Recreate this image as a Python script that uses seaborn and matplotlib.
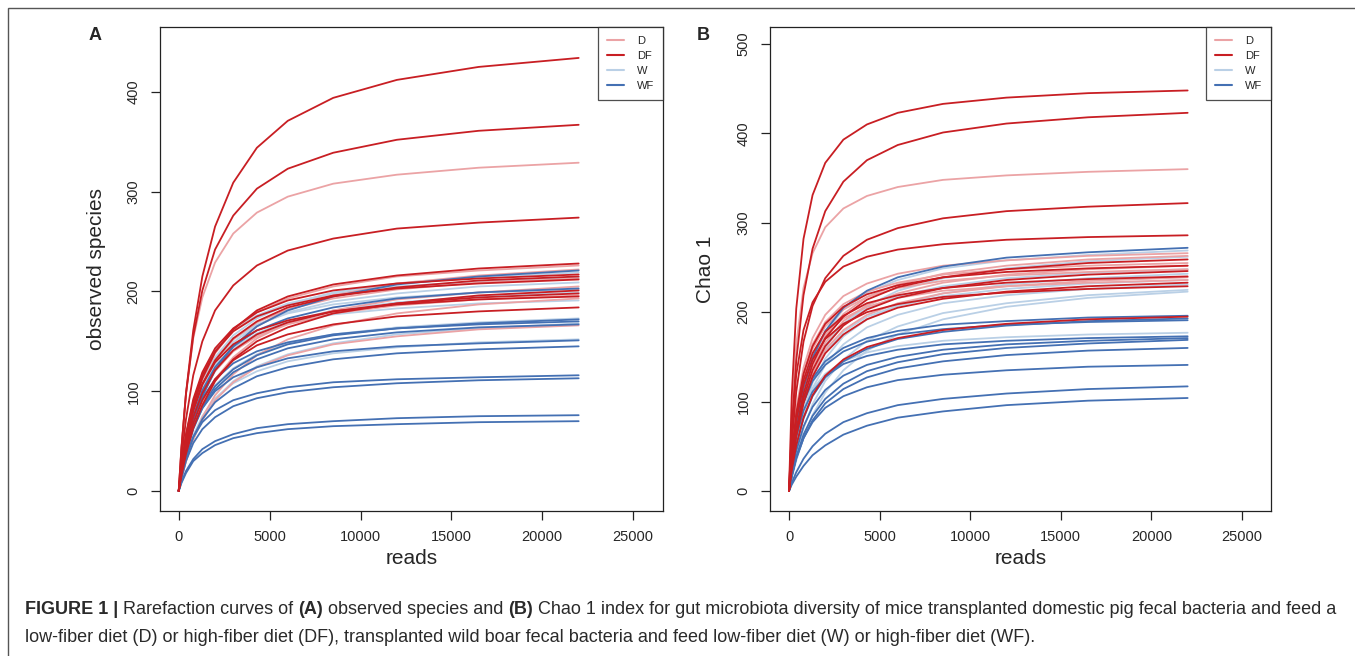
import pandas as pd
import numpy as np
import matplotlib
matplotlib.use("Agg")
import matplotlib.pyplot as plt
from matplotlib.lines import Line2D
from matplotlib.patches import Rectangle
import seaborn as sns

reads = [0, 150, 400, 800, 1300, 2000, 3000, 4300, 6000, 8500, 12000, 16500, 22000]

# panel A - observed species (one list per mouse, values at `reads`)
obs_D = [
    [0, 45, 98, 153, 194, 229, 258, 279, 295, 308, 317, 324, 329],
    [0, 22, 51, 84, 112, 138, 161, 179, 193, 205, 215, 221, 226],
    [0, 17, 40, 69, 95, 121, 145, 165, 182, 196, 208, 216, 222],
    [0, 21, 48, 79, 106, 130, 152, 169, 182, 193, 202, 209, 213],
    [0, 16, 37, 64, 88, 112, 134, 153, 168, 181, 192, 199, 205],
    [0, 19, 44, 73, 97, 120, 140, 155, 167, 178, 186, 192, 196],
    [0, 12, 30, 52, 74, 96, 117, 136, 152, 166, 178, 187, 193],
    [0, 13, 30, 52, 71, 91, 109, 124, 136, 147, 155, 162, 166],
]
obs_DF = [
    [0, 42, 98, 161, 215, 265, 309, 344, 371, 394, 412, 425, 434],
    [0, 43, 97, 155, 201, 242, 276, 303, 323, 339, 352, 361, 367],
    [0, 32, 72, 116, 150, 181, 206, 226, 241, 253, 263, 269, 274],
    [0, 22, 51, 85, 113, 139, 162, 181, 195, 207, 216, 223, 228],
    [0, 25, 57, 92, 119, 143, 163, 179, 191, 201, 208, 213, 217],
    [0, 21, 48, 80, 107, 131, 153, 170, 184, 195, 204, 211, 215],
    [0, 25, 56, 89, 116, 140, 160, 175, 186, 196, 203, 208, 212],
    [0, 15, 37, 63, 86, 110, 132, 150, 164, 178, 188, 196, 201],
    [0, 19, 45, 74, 98, 121, 141, 157, 169, 180, 188, 194, 198],
    [0, 23, 51, 82, 107, 129, 147, 161, 171, 180, 187, 192, 195],
    [0, 18, 41, 68, 91, 112, 131, 146, 157, 167, 175, 180, 184],
]
obs_W = [
    [0, 21, 49, 81, 109, 134, 156, 173, 187, 199, 208, 214, 219],
    [0, 25, 56, 90, 117, 141, 161, 176, 188, 198, 205, 210, 214],
    [0, 20, 47, 78, 104, 128, 149, 166, 179, 190, 198, 205, 209],
    [0, 24, 53, 85, 111, 133, 152, 167, 178, 187, 194, 199, 202],
    [0, 19, 45, 74, 99, 121, 142, 158, 170, 181, 189, 195, 199],
    [0, 22, 50, 81, 105, 126, 144, 157, 168, 177, 183, 188, 191],
    [0, 17, 39, 64, 86, 106, 123, 137, 148, 157, 164, 169, 173],
    [0, 13, 31, 52, 72, 92, 110, 125, 137, 148, 157, 163, 168],
    [0, 15, 34, 56, 75, 93, 108, 120, 130, 138, 144, 149, 152],
]
obs_WF = [
    [0, 17, 40, 69, 95, 121, 145, 165, 181, 195, 207, 215, 221],
    [0, 20, 46, 75, 101, 124, 145, 161, 173, 184, 193, 199, 203],
    [0, 17, 39, 64, 85, 105, 122, 136, 147, 156, 163, 168, 172],
    [0, 20, 45, 72, 93, 112, 128, 140, 149, 157, 163, 167, 170],
    [0, 16, 38, 62, 83, 102, 119, 132, 143, 152, 159, 164, 167],
    [0, 18, 40, 64, 83, 100, 114, 124, 133, 140, 145, 148, 151],
    [0, 14, 33, 54, 72, 89, 103, 115, 124, 132, 138, 142, 145],
    [0, 16, 35, 54, 69, 81, 91, 98, 104, 109, 112, 114, 116],
    [0, 13, 30, 48, 62, 74, 85, 93, 99, 104, 108, 111, 113],
    [0, 9, 20, 32, 42, 50, 57, 63, 67, 70, 73, 75, 76],
    [0, 8, 18, 30, 38, 46, 53, 58, 62, 65, 67, 69, 70],
]

# panel B - Chao 1
chao_D = [
    [0, 85, 164, 227, 266, 295, 316, 330, 340, 348, 353, 357, 360],
    [0, 44, 92, 138, 171, 197, 218, 232, 243, 252, 258, 263, 266],
    [0, 31, 69, 111, 144, 173, 198, 217, 231, 243, 252, 259, 263],
    [0, 42, 88, 132, 164, 189, 209, 223, 233, 242, 248, 252, 255],
    [0, 30, 66, 106, 138, 166, 190, 208, 221, 233, 242, 248, 252],
    [0, 41, 86, 129, 159, 184, 203, 217, 227, 235, 241, 245, 248],
    [0, 28, 63, 101, 131, 158, 180, 197, 210, 221, 229, 235, 239],
    [0, 39, 82, 122, 151, 175, 193, 206, 216, 224, 229, 233, 236],
]
chao_DF = [
    [0, 106, 204, 282, 331, 367, 393, 410, 423, 433, 440, 445, 448],
    [0, 69, 146, 219, 271, 313, 346, 370, 387, 401, 411, 418, 423],
    [0, 53, 111, 167, 207, 238, 263, 281, 294, 305, 313, 318, 322],
    [0, 67, 130, 180, 211, 234, 251, 262, 270, 276, 281, 284, 286],
    [0, 30, 68, 109, 142, 171, 195, 214, 228, 239, 248, 255, 259],
    [0, 41, 87, 131, 162, 187, 206, 220, 230, 239, 245, 249, 252],
    [0, 29, 65, 104, 135, 162, 185, 203, 216, 227, 236, 242, 246],
    [0, 39, 83, 124, 154, 178, 196, 210, 219, 227, 233, 237, 240],
    [0, 27, 61, 98, 128, 154, 175, 192, 205, 215, 223, 229, 233],
    [0, 37, 79, 119, 147, 170, 187, 200, 209, 217, 222, 226, 229],
    [0, 23, 51, 82, 107, 129, 147, 161, 171, 180, 187, 192, 195],
]
chao_W = [
    [0, 32, 71, 113, 148, 177, 203, 222, 236, 249, 258, 264, 269],
    [0, 25, 59, 97, 130, 160, 187, 207, 224, 238, 249, 257, 262],
    [0, 29, 65, 105, 136, 163, 187, 204, 218, 229, 238, 244, 248],
    [0, 24, 55, 90, 121, 148, 173, 192, 208, 221, 231, 238, 243],
    [0, 28, 62, 100, 129, 156, 178, 195, 207, 218, 226, 232, 236],
    [0, 22, 52, 86, 115, 141, 164, 183, 197, 210, 219, 226, 231],
    [0, 17, 41, 70, 97, 123, 147, 168, 184, 199, 210, 219, 225],
    [0, 14, 34, 60, 85, 110, 135, 157, 175, 192, 206, 216, 223],
    [0, 29, 61, 92, 114, 131, 145, 155, 162, 168, 172, 175, 177],
]
chao_WF = [
    [0, 32, 72, 115, 149, 179, 205, 224, 239, 251, 261, 267, 272],
    [0, 32, 68, 102, 126, 145, 160, 171, 179, 186, 190, 194, 196],
    [0, 23, 51, 81, 106, 127, 145, 159, 170, 178, 185, 190, 193],
    [0, 31, 66, 99, 123, 141, 156, 167, 175, 181, 186, 189, 191],
    [0, 28, 60, 90, 111, 128, 142, 151, 158, 164, 168, 171, 173],
    [0, 20, 45, 72, 94, 113, 129, 141, 150, 158, 164, 168, 171],
    [0, 16, 38, 63, 84, 103, 120, 134, 144, 153, 160, 165, 169],
    [0, 16, 36, 59, 79, 98, 114, 127, 137, 145, 152, 157, 160],
    [0, 17, 37, 59, 77, 93, 106, 116, 124, 130, 135, 139, 141],
    [0, 9, 21, 36, 50, 64, 77, 87, 96, 103, 109, 114, 117],
    [0, 7, 16, 28, 40, 51, 63, 73, 82, 89, 96, 101, 104],
]

groups = ["D", "DF", "W", "WF"]
colors = {"D": "#EBA3A5", "DF": "#C81E23", "W": "#BAD0E6", "WF": "#4470B3"}
draw_order = ["W", "D", "WF", "DF"]


def to_long(curves_by_group):
    rows = []
    for g, curves in curves_by_group.items():
        for i, c in enumerate(curves):
            for r, v in zip(reads, c):
                rows.append({"reads": r, "value": v, "group": g, "sample": f"{g}{i+1}"})
    return pd.DataFrame(rows)


obs_df = to_long({"D": obs_D, "DF": obs_DF, "W": obs_W, "WF": obs_WF})
chao_df = to_long({"D": chao_D, "DF": chao_DF, "W": chao_W, "WF": chao_WF})

sns.set_style("ticks")
plt.rcParams["font.family"] = ["Liberation Sans", "DejaVu Sans"]

W_PX, H_PX = 1355, 656
fig = plt.figure(figsize=(W_PX / 100, H_PX / 100), dpi=100)


def px_box(left, top, right, bottom):
    return [left / W_PX, 1 - bottom / H_PX, (right - left) / W_PX, (bottom - top) / H_PX]


axA = fig.add_axes(px_box(160, 27, 663, 511))
axB = fig.add_axes(px_box(770, 27, 1271, 511))

panels = [
    (axA, obs_df, "observed species", (-1029, 26639), (-20, 465), [0, 100, 200, 300, 400], "A", 95, -0.107),
    (axB, chao_df, "Chao 1", (-1049, 26600), (-22.4, 519), [0, 100, 200, 300, 400, 500], "B", 703, -0.110),
]

for ax, df, ylab, xlim, ylim, yticks, letter, lx, ylab_x in panels:
    sns.lineplot(data=df, x="reads", y="value", hue="group", units="sample",
                 estimator=None, hue_order=draw_order, palette=colors,
                 linewidth=1.3, legend=False, ax=ax, sort=False)
    ax.set_xlim(*xlim)
    ax.set_ylim(*ylim)
    ax.set_xticks([0, 5000, 10000, 15000, 20000, 25000])
    ax.set_yticks(yticks)
    ax.tick_params(axis="both", direction="out", length=6.5, width=0.9,
                   labelsize=10.5, pad=7.5, color="#222222")
    ax.tick_params(axis="y", labelrotation=90)
    for lab in ax.get_yticklabels():
        lab.set_va("center")
    for s in ax.spines.values():
        s.set_visible(True)
        s.set_linewidth(0.9)
        s.set_color("#222222")
    ax.set_xlabel("reads", fontsize=15)
    ax.set_ylabel(ylab, fontsize=15)
    ax.xaxis.set_label_coords(0.5, -0.0785)
    ax.yaxis.set_label_coords(ylab_x, 0.5)

    handles = [Line2D([0], [0], color=colors[g], lw=1.5) for g in groups]
    leg = ax.legend(handles, groups, loc="upper right", borderaxespad=0,
                    fancybox=False, frameon=True, fontsize=8, borderpad=0.8,
                    handlelength=1.5, handletextpad=1.2, labelspacing=0.45)
    leg.get_frame().set_edgecolor("#222222")
    leg.get_frame().set_linewidth(0.9)

    fig.text(lx / W_PX, 1 - 35 / H_PX, letter, fontsize=13, fontweight="bold",
             ha="center", va="center")

# outer frame of the figure panel
fig.patches.append(Rectangle((8 / W_PX, -0.1), 1.2, 1 - 8 / H_PX + 0.1,
                             transform=fig.transFigure, fill=False,
                             edgecolor="#555555", linewidth=1.0))

# caption with bold pieces
cap1 = [("FIGURE 1 | ", True), ("Rarefaction curves of ", False), ("(A)", True),
        (" observed species and ", False), ("(B)", True),
        (" Chao 1 index for gut microbiota diversity of mice transplanted domestic pig fecal bacteria and feed a", False)]
cap2 = [("low-fiber diet (D) or high-fiber diet (DF), transplanted wild boar fecal bacteria and feed low-fiber diet (W) or high-fiber diet (WF).", False)]

renderer = fig.canvas.get_renderer()


def rich_line(parts, x_px, y_px, size):
    x = x_px
    for txt, bold in parts:
        t = fig.text(x / W_PX, 1 - y_px / H_PX, txt, fontsize=size,
                     fontweight="bold" if bold else "normal", color="#2a2a2a",
                     ha="left", va="center")
        x += t.get_window_extent(renderer).width
    return x - x_px


# size the caption so its first line spans the same width as in the figure
probe = []
w10 = 0
for txt, bold in cap1:
    t = fig.text(0, 0, txt, fontsize=10, fontweight="bold" if bold else "normal")
    w10 += t.get_window_extent(renderer).width
    probe.append(t)
for t in probe:
    t.remove()
cap_size = 10 * (1340 - 25) / w10

rich_line(cap1, 25, 610, cap_size)
rich_line(cap2, 25, 637, cap_size)

fig.savefig("out.png", dpi=100)
